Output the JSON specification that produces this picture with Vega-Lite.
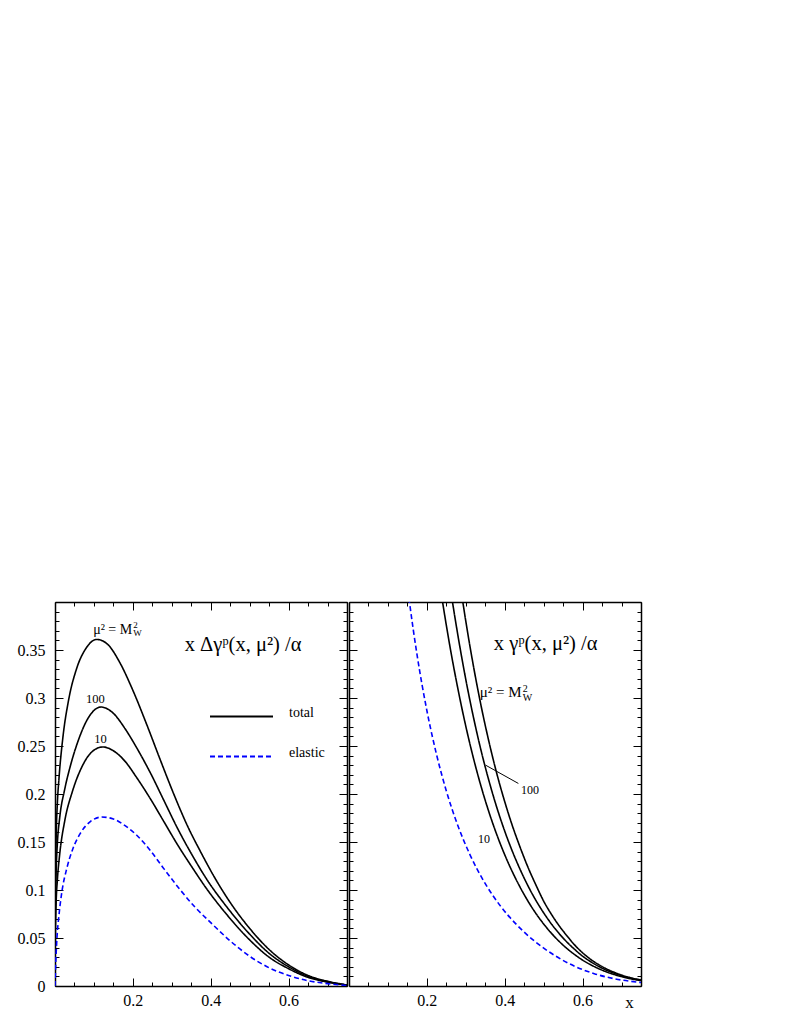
{
  "$schema": "https://vega.github.io/schema/vega-lite/v6.json",
  "padding": {"left": 17, "top": 594, "right": 5, "bottom": 5},
  "config": {
    "view": {"stroke": null},
    "font": "'Liberation Serif', 'Times New Roman', serif",
    "axis": {"domainColor": "black", "domainWidth": 1.5, "tickColor": "black", "tickWidth": 1, "grid": false, "labelFont": "'Liberation Serif', 'Times New Roman', serif", "labelFontSize": 16, "labelColor": "black", "labelOverlap": false, "labelFlush": false, "titleFont": "'Liberation Serif', 'Times New Roman', serif"},
    "legend": {"labelFont": "'Liberation Serif', 'Times New Roman', serif"},
    "text": {"font": "'Liberation Serif', 'Times New Roman', serif", "color": "black"}
  },
  "datasets": {
    "left": [
      {"curve": "MW", "type": "total", "x": 0, "y": 0},
      {"curve": "MW", "type": "total", "x": 0.001, "y": 0.1},
      {"curve": "MW", "type": "total", "x": 0.003, "y": 0.155},
      {"curve": "MW", "type": "total", "x": 0.006, "y": 0.19},
      {"curve": "MW", "type": "total", "x": 0.01, "y": 0.215},
      {"curve": "MW", "type": "total", "x": 0.02, "y": 0.258},
      {"curve": "MW", "type": "total", "x": 0.035, "y": 0.298},
      {"curve": "MW", "type": "total", "x": 0.055, "y": 0.33},
      {"curve": "MW", "type": "total", "x": 0.08, "y": 0.352},
      {"curve": "MW", "type": "total", "x": 0.107, "y": 0.361},
      {"curve": "MW", "type": "total", "x": 0.135, "y": 0.356},
      {"curve": "MW", "type": "total", "x": 0.165, "y": 0.338},
      {"curve": "MW", "type": "total", "x": 0.2, "y": 0.308},
      {"curve": "MW", "type": "total", "x": 0.235, "y": 0.273},
      {"curve": "MW", "type": "total", "x": 0.27, "y": 0.236},
      {"curve": "MW", "type": "total", "x": 0.305, "y": 0.2},
      {"curve": "MW", "type": "total", "x": 0.34, "y": 0.167},
      {"curve": "MW", "type": "total", "x": 0.375, "y": 0.139},
      {"curve": "MW", "type": "total", "x": 0.41, "y": 0.113},
      {"curve": "MW", "type": "total", "x": 0.45, "y": 0.087},
      {"curve": "MW", "type": "total", "x": 0.5, "y": 0.06},
      {"curve": "MW", "type": "total", "x": 0.55, "y": 0.038},
      {"curve": "MW", "type": "total", "x": 0.6, "y": 0.022},
      {"curve": "MW", "type": "total", "x": 0.65, "y": 0.011},
      {"curve": "MW", "type": "total", "x": 0.7, "y": 0.005},
      {"curve": "MW", "type": "total", "x": 0.75, "y": 0.001},
      {"curve": "100", "type": "total", "x": 0, "y": 0},
      {"curve": "100", "type": "total", "x": 0.001, "y": 0.08},
      {"curve": "100", "type": "total", "x": 0.003, "y": 0.12},
      {"curve": "100", "type": "total", "x": 0.006, "y": 0.148},
      {"curve": "100", "type": "total", "x": 0.012, "y": 0.175},
      {"curve": "100", "type": "total", "x": 0.025, "y": 0.205},
      {"curve": "100", "type": "total", "x": 0.04, "y": 0.23},
      {"curve": "100", "type": "total", "x": 0.06, "y": 0.256},
      {"curve": "100", "type": "total", "x": 0.085, "y": 0.279},
      {"curve": "100", "type": "total", "x": 0.118, "y": 0.2906},
      {"curve": "100", "type": "total", "x": 0.15, "y": 0.284},
      {"curve": "100", "type": "total", "x": 0.18, "y": 0.268},
      {"curve": "100", "type": "total", "x": 0.21, "y": 0.248},
      {"curve": "100", "type": "total", "x": 0.245, "y": 0.222},
      {"curve": "100", "type": "total", "x": 0.28, "y": 0.193},
      {"curve": "100", "type": "total", "x": 0.315, "y": 0.164},
      {"curve": "100", "type": "total", "x": 0.35, "y": 0.138},
      {"curve": "100", "type": "total", "x": 0.39, "y": 0.111},
      {"curve": "100", "type": "total", "x": 0.44, "y": 0.083},
      {"curve": "100", "type": "total", "x": 0.5, "y": 0.054},
      {"curve": "100", "type": "total", "x": 0.55, "y": 0.034},
      {"curve": "100", "type": "total", "x": 0.6, "y": 0.02},
      {"curve": "100", "type": "total", "x": 0.65, "y": 0.01},
      {"curve": "100", "type": "total", "x": 0.7, "y": 0.0045},
      {"curve": "100", "type": "total", "x": 0.75, "y": 0.001},
      {"curve": "10", "type": "total", "x": 0, "y": 0},
      {"curve": "10", "type": "total", "x": 0.001, "y": 0.055},
      {"curve": "10", "type": "total", "x": 0.003, "y": 0.088},
      {"curve": "10", "type": "total", "x": 0.006, "y": 0.11},
      {"curve": "10", "type": "total", "x": 0.012, "y": 0.137},
      {"curve": "10", "type": "total", "x": 0.025, "y": 0.172},
      {"curve": "10", "type": "total", "x": 0.045, "y": 0.203},
      {"curve": "10", "type": "total", "x": 0.07, "y": 0.229},
      {"curve": "10", "type": "total", "x": 0.095, "y": 0.244},
      {"curve": "10", "type": "total", "x": 0.123, "y": 0.249},
      {"curve": "10", "type": "total", "x": 0.15, "y": 0.245},
      {"curve": "10", "type": "total", "x": 0.18, "y": 0.234},
      {"curve": "10", "type": "total", "x": 0.21, "y": 0.217},
      {"curve": "10", "type": "total", "x": 0.245, "y": 0.195},
      {"curve": "10", "type": "total", "x": 0.28, "y": 0.171},
      {"curve": "10", "type": "total", "x": 0.315, "y": 0.147},
      {"curve": "10", "type": "total", "x": 0.35, "y": 0.125},
      {"curve": "10", "type": "total", "x": 0.39, "y": 0.101},
      {"curve": "10", "type": "total", "x": 0.44, "y": 0.075},
      {"curve": "10", "type": "total", "x": 0.5, "y": 0.048},
      {"curve": "10", "type": "total", "x": 0.55, "y": 0.03},
      {"curve": "10", "type": "total", "x": 0.6, "y": 0.018},
      {"curve": "10", "type": "total", "x": 0.65, "y": 0.009},
      {"curve": "10", "type": "total", "x": 0.7, "y": 0.004},
      {"curve": "10", "type": "total", "x": 0.75, "y": 0.001},
      {"curve": "el", "type": "elastic", "x": 0, "y": 0},
      {"curve": "el", "type": "elastic", "x": 0.002, "y": 0.025},
      {"curve": "el", "type": "elastic", "x": 0.005, "y": 0.05},
      {"curve": "el", "type": "elastic", "x": 0.01, "y": 0.073},
      {"curve": "el", "type": "elastic", "x": 0.018, "y": 0.099},
      {"curve": "el", "type": "elastic", "x": 0.03, "y": 0.122},
      {"curve": "el", "type": "elastic", "x": 0.045, "y": 0.142},
      {"curve": "el", "type": "elastic", "x": 0.065, "y": 0.159},
      {"curve": "el", "type": "elastic", "x": 0.09, "y": 0.171},
      {"curve": "el", "type": "elastic", "x": 0.12, "y": 0.176},
      {"curve": "el", "type": "elastic", "x": 0.15, "y": 0.174},
      {"curve": "el", "type": "elastic", "x": 0.18, "y": 0.167},
      {"curve": "el", "type": "elastic", "x": 0.21, "y": 0.157},
      {"curve": "el", "type": "elastic", "x": 0.245, "y": 0.141},
      {"curve": "el", "type": "elastic", "x": 0.28, "y": 0.122},
      {"curve": "el", "type": "elastic", "x": 0.32, "y": 0.101},
      {"curve": "el", "type": "elastic", "x": 0.36, "y": 0.082},
      {"curve": "el", "type": "elastic", "x": 0.4, "y": 0.066},
      {"curve": "el", "type": "elastic", "x": 0.45, "y": 0.047},
      {"curve": "el", "type": "elastic", "x": 0.5, "y": 0.031},
      {"curve": "el", "type": "elastic", "x": 0.55, "y": 0.019},
      {"curve": "el", "type": "elastic", "x": 0.6, "y": 0.011},
      {"curve": "el", "type": "elastic", "x": 0.65, "y": 0.0055},
      {"curve": "el", "type": "elastic", "x": 0.7, "y": 0.0025},
      {"curve": "el", "type": "elastic", "x": 0.75, "y": 0.0005}
    ],
    "right": [
      {"curve": "10", "type": "total", "x": 0.2, "y": 0.52},
      {"curve": "10", "type": "total", "x": 0.22, "y": 0.4566},
      {"curve": "10", "type": "total", "x": 0.24, "y": 0.401},
      {"curve": "10", "type": "total", "x": 0.26, "y": 0.352},
      {"curve": "10", "type": "total", "x": 0.28, "y": 0.309},
      {"curve": "10", "type": "total", "x": 0.3, "y": 0.2706},
      {"curve": "10", "type": "total", "x": 0.32, "y": 0.2367},
      {"curve": "10", "type": "total", "x": 0.34, "y": 0.2068},
      {"curve": "10", "type": "total", "x": 0.36, "y": 0.1805},
      {"curve": "10", "type": "total", "x": 0.38, "y": 0.1572},
      {"curve": "10", "type": "total", "x": 0.4, "y": 0.1367},
      {"curve": "10", "type": "total", "x": 0.42, "y": 0.1186},
      {"curve": "10", "type": "total", "x": 0.44, "y": 0.1025},
      {"curve": "10", "type": "total", "x": 0.46, "y": 0.0882},
      {"curve": "10", "type": "total", "x": 0.48, "y": 0.0756},
      {"curve": "10", "type": "total", "x": 0.5, "y": 0.0646},
      {"curve": "10", "type": "total", "x": 0.52, "y": 0.0549},
      {"curve": "10", "type": "total", "x": 0.54, "y": 0.0464},
      {"curve": "10", "type": "total", "x": 0.56, "y": 0.039},
      {"curve": "10", "type": "total", "x": 0.58, "y": 0.0326},
      {"curve": "10", "type": "total", "x": 0.6, "y": 0.027},
      {"curve": "10", "type": "total", "x": 0.62, "y": 0.0223},
      {"curve": "10", "type": "total", "x": 0.64, "y": 0.0183},
      {"curve": "10", "type": "total", "x": 0.66, "y": 0.0149},
      {"curve": "10", "type": "total", "x": 0.68, "y": 0.0121},
      {"curve": "10", "type": "total", "x": 0.7, "y": 0.0098},
      {"curve": "10", "type": "total", "x": 0.72, "y": 0.0078},
      {"curve": "10", "type": "total", "x": 0.75, "y": 0.0056},
      {"curve": "100", "type": "total", "x": 0.2, "y": 0.614},
      {"curve": "100", "type": "total", "x": 0.22, "y": 0.539},
      {"curve": "100", "type": "total", "x": 0.24, "y": 0.473},
      {"curve": "100", "type": "total", "x": 0.26, "y": 0.4154},
      {"curve": "100", "type": "total", "x": 0.28, "y": 0.3646},
      {"curve": "100", "type": "total", "x": 0.3, "y": 0.3193},
      {"curve": "100", "type": "total", "x": 0.32, "y": 0.2793},
      {"curve": "100", "type": "total", "x": 0.34, "y": 0.244},
      {"curve": "100", "type": "total", "x": 0.36, "y": 0.213},
      {"curve": "100", "type": "total", "x": 0.38, "y": 0.1855},
      {"curve": "100", "type": "total", "x": 0.4, "y": 0.1613},
      {"curve": "100", "type": "total", "x": 0.42, "y": 0.1399},
      {"curve": "100", "type": "total", "x": 0.44, "y": 0.121},
      {"curve": "100", "type": "total", "x": 0.46, "y": 0.1041},
      {"curve": "100", "type": "total", "x": 0.48, "y": 0.0892},
      {"curve": "100", "type": "total", "x": 0.5, "y": 0.0762},
      {"curve": "100", "type": "total", "x": 0.52, "y": 0.0646},
      {"curve": "100", "type": "total", "x": 0.54, "y": 0.0545},
      {"curve": "100", "type": "total", "x": 0.56, "y": 0.0457},
      {"curve": "100", "type": "total", "x": 0.58, "y": 0.038},
      {"curve": "100", "type": "total", "x": 0.6, "y": 0.0311},
      {"curve": "100", "type": "total", "x": 0.62, "y": 0.0255},
      {"curve": "100", "type": "total", "x": 0.64, "y": 0.0207},
      {"curve": "100", "type": "total", "x": 0.66, "y": 0.0167},
      {"curve": "100", "type": "total", "x": 0.68, "y": 0.0135},
      {"curve": "100", "type": "total", "x": 0.7, "y": 0.0107},
      {"curve": "100", "type": "total", "x": 0.72, "y": 0.0085},
      {"curve": "100", "type": "total", "x": 0.75, "y": 0.006},
      {"curve": "MW", "type": "total", "x": 0.2, "y": 0.73},
      {"curve": "MW", "type": "total", "x": 0.22, "y": 0.641},
      {"curve": "MW", "type": "total", "x": 0.24, "y": 0.563},
      {"curve": "MW", "type": "total", "x": 0.26, "y": 0.494},
      {"curve": "MW", "type": "total", "x": 0.28, "y": 0.434},
      {"curve": "MW", "type": "total", "x": 0.3, "y": 0.38},
      {"curve": "MW", "type": "total", "x": 0.32, "y": 0.3324},
      {"curve": "MW", "type": "total", "x": 0.34, "y": 0.2904},
      {"curve": "MW", "type": "total", "x": 0.36, "y": 0.2535},
      {"curve": "MW", "type": "total", "x": 0.38, "y": 0.2207},
      {"curve": "MW", "type": "total", "x": 0.4, "y": 0.192},
      {"curve": "MW", "type": "total", "x": 0.42, "y": 0.1665},
      {"curve": "MW", "type": "total", "x": 0.44, "y": 0.144},
      {"curve": "MW", "type": "total", "x": 0.46, "y": 0.1234},
      {"curve": "MW", "type": "total", "x": 0.48, "y": 0.1053},
      {"curve": "MW", "type": "total", "x": 0.5, "y": 0.0884},
      {"curve": "MW", "type": "total", "x": 0.52, "y": 0.0746},
      {"curve": "MW", "type": "total", "x": 0.54, "y": 0.0626},
      {"curve": "MW", "type": "total", "x": 0.56, "y": 0.0522},
      {"curve": "MW", "type": "total", "x": 0.58, "y": 0.0426},
      {"curve": "MW", "type": "total", "x": 0.6, "y": 0.0346},
      {"curve": "MW", "type": "total", "x": 0.62, "y": 0.028},
      {"curve": "MW", "type": "total", "x": 0.64, "y": 0.0226},
      {"curve": "MW", "type": "total", "x": 0.66, "y": 0.0181},
      {"curve": "MW", "type": "total", "x": 0.68, "y": 0.0145},
      {"curve": "MW", "type": "total", "x": 0.7, "y": 0.0114},
      {"curve": "MW", "type": "total", "x": 0.72, "y": 0.009},
      {"curve": "MW", "type": "total", "x": 0.75, "y": 0.0063},
      {"curve": "el", "type": "elastic", "x": 0.13, "y": 0.487},
      {"curve": "el", "type": "elastic", "x": 0.155, "y": 0.401},
      {"curve": "el", "type": "elastic", "x": 0.175, "y": 0.3444},
      {"curve": "el", "type": "elastic", "x": 0.2, "y": 0.287},
      {"curve": "el", "type": "elastic", "x": 0.225, "y": 0.2409},
      {"curve": "el", "type": "elastic", "x": 0.25, "y": 0.2032},
      {"curve": "el", "type": "elastic", "x": 0.28, "y": 0.1667},
      {"curve": "el", "type": "elastic", "x": 0.31, "y": 0.1374},
      {"curve": "el", "type": "elastic", "x": 0.35, "y": 0.1066},
      {"curve": "el", "type": "elastic", "x": 0.39, "y": 0.0828},
      {"curve": "el", "type": "elastic", "x": 0.43, "y": 0.0641},
      {"curve": "el", "type": "elastic", "x": 0.48, "y": 0.0456},
      {"curve": "el", "type": "elastic", "x": 0.53, "y": 0.0314},
      {"curve": "el", "type": "elastic", "x": 0.58, "y": 0.0205},
      {"curve": "el", "type": "elastic", "x": 0.63, "y": 0.0128},
      {"curve": "el", "type": "elastic", "x": 0.68, "y": 0.0077},
      {"curve": "el", "type": "elastic", "x": 0.75, "y": 0.0036}
    ]
  },
  "spacing": 0,
  "resolve": {"scale": {"color": "independent", "strokeDash": "independent"}, "legend": {"color": "independent", "strokeDash": "independent"}},
  "hconcat": [
    {
      "width": 292,
      "height": 384,
      "resolve": {"axis": {"x": "independent", "y": "independent"}},
      "layer": [
        {
          "data": {"name": "left"},
          "mark": {"type": "line", "strokeWidth": 1.6, "interpolate": "monotone", "clip": true},
          "encoding": {
            "x": {"field": "x", "type": "quantitative", "scale": {"domain": [0, 0.75], "nice": false, "zero": false},
              "axis": {"orient": "bottom", "title": null, "values": [0,0.05,0.1,0.15,0.2,0.25,0.3,0.35,0.4,0.45,0.5,0.55,0.6,0.65,0.7,0.75],
                "labelExpr": "abs(datum.value/0.2-round(datum.value/0.2))<1e-6 && datum.value>0.01 ? format(datum.value,'.1f') : ''",
                "tickSize": {"condition": {"test": "abs(datum.value/0.2-round(datum.value/0.2))<1e-6", "value": -8}, "value": -4},
                "labelPadding": 14}},
            "y": {"field": "y", "type": "quantitative", "scale": {"domain": [0, 0.4], "nice": false},
              "axis": {"orient": "left", "title": null, "values": [0,0.01,0.02,0.03,0.04,0.05,0.06,0.07,0.08,0.09,0.1,0.11,0.12,0.13,0.14,0.15,0.16,0.17,0.18,0.19,0.2,0.21,0.22,0.23,0.24,0.25,0.26,0.27,0.28,0.29,0.3,0.31,0.32,0.33,0.34,0.35,0.36,0.37,0.38,0.39,0.4],
                "labelExpr": "abs(datum.value/0.05-round(datum.value/0.05))<1e-6 && datum.value<0.39 ? format(datum.value,'~g') : ''",
                "tickSize": {"condition": {"test": "abs(datum.value/0.05-round(datum.value/0.05))<1e-6", "value": -8}, "value": -4},
                "labelPadding": 18}},
            "detail": {"field": "curve", "type": "nominal"},
            "color": {"field": "type", "type": "nominal", "scale": {"domain": ["total", "elastic"], "range": ["#000000", "#0000ff"]},
              "legend": {"orient": "none", "legendX": 154, "legendY": 82, "title": null, "symbolType": "stroke", "symbolSize": 3969, "symbolStrokeWidth": 2, "labelFontSize": 14, "labelColor": "black", "labelOffset": 15, "labelBaseline": "alphabetic", "rowPadding": 3, "padding": 0}},
            "strokeDash": {"field": "type", "type": "nominal", "scale": {"domain": ["total", "elastic"], "range": [[1, 0], [5, 3]]},
              "legend": {"orient": "none", "legendX": 154, "legendY": 82, "title": null, "symbolType": "stroke", "symbolSize": 3969, "symbolStrokeWidth": 2, "labelFontSize": 14, "labelColor": "black", "labelOffset": 15, "labelBaseline": "alphabetic", "rowPadding": 3, "padding": 0}}
          }
        },
        {
          "data": {"values": [{}]},
          "mark": {"type": "text", "text": "x Δγᵖ(x, μ²) /α", "fontSize": 20.5, "align": "center", "baseline": "alphabetic"},
          "encoding": {
            "x": {"datum": 0.483, "type": "quantitative", "scale": {"domain": [0, 0.75], "nice": false, "zero": false},
              "axis": {"orient": "top", "title": null, "labels": false, "values": [0,0.05,0.1,0.15,0.2,0.25,0.3,0.35,0.4,0.45,0.5,0.55,0.6,0.65,0.7,0.75],
                "tickSize": {"condition": {"test": "abs(datum.value/0.2-round(datum.value/0.2))<1e-6", "value": -8}, "value": -4}}},
            "y": {"datum": 0.349, "type": "quantitative", "scale": {"domain": [0, 0.4], "nice": false},
              "axis": {"orient": "right", "title": null, "labels": false, "values": [0,0.01,0.02,0.03,0.04,0.05,0.06,0.07,0.08,0.09,0.1,0.11,0.12,0.13,0.14,0.15,0.16,0.17,0.18,0.19,0.2,0.21,0.22,0.23,0.24,0.25,0.26,0.27,0.28,0.29,0.3,0.31,0.32,0.33,0.34,0.35,0.36,0.37,0.38,0.39,0.4],
                "tickSize": {"condition": {"test": "abs(datum.value/0.05-round(datum.value/0.05))<1e-6", "value": -8}, "value": -4}}}
          }
        },
        {
          "data": {"values": [{}]},
          "mark": {"type": "text", "text": "μ² = M", "fontSize": 14, "align": "left", "baseline": "alphabetic"},
          "encoding": {
            "x": {"datum": 0.098, "type": "quantitative", "axis": null},
            "y": {"datum": 0.367, "type": "quantitative", "axis": null}
          }
        },
        {
          "data": {"values": [{}]},
          "mark": {"type": "text", "text": ["2", "W"], "fontSize": 9, "lineHeight": 8.5, "align": "left", "baseline": "middle", "dx": 40, "dy": -9},
          "encoding": {
            "x": {"datum": 0.098, "type": "quantitative", "axis": null},
            "y": {"datum": 0.367, "type": "quantitative", "axis": null}
          }
        },
        {
          "data": {"values": [{}]},
          "mark": {"type": "text", "text": "100", "fontSize": 12.5, "align": "center", "baseline": "alphabetic"},
          "encoding": {
            "x": {"datum": 0.104, "type": "quantitative", "axis": null},
            "y": {"datum": 0.295, "type": "quantitative", "axis": null}
          }
        },
        {
          "data": {"values": [{}]},
          "mark": {"type": "text", "text": "10", "fontSize": 12.5, "align": "center", "baseline": "alphabetic"},
          "encoding": {
            "x": {"datum": 0.117, "type": "quantitative", "axis": null},
            "y": {"datum": 0.2535, "type": "quantitative", "axis": null}
          }
        }
      ]
    },
    {
      "width": 292,
      "height": 384,
      "resolve": {"axis": {"x": "independent", "y": "independent"}},
      "layer": [
        {
          "data": {"name": "right"},
          "mark": {"type": "line", "strokeWidth": 1.6, "interpolate": "monotone", "clip": true},
          "encoding": {
            "x": {"field": "x", "type": "quantitative", "scale": {"domain": [0, 0.75], "nice": false, "zero": false},
              "axis": {"orient": "bottom", "title": "x", "titleFontSize": 17, "titleFontWeight": "normal", "titleColor": "black", "titleX": 280, "titleY": 21, "titleAlign": "center", "titleBaseline": "alphabetic", "titleAnchor": null,
                "values": [0,0.05,0.1,0.15,0.2,0.25,0.3,0.35,0.4,0.45,0.5,0.55,0.6,0.65,0.7,0.75],
                "labelExpr": "abs(datum.value/0.2-round(datum.value/0.2))<1e-6 && datum.value>0.01 ? format(datum.value,'.1f') : ''",
                "tickSize": {"condition": {"test": "abs(datum.value/0.2-round(datum.value/0.2))<1e-6", "value": -8}, "value": -4},
                "labelPadding": 14}},
            "y": {"field": "y", "type": "quantitative", "scale": {"domain": [0, 0.4], "nice": false},
              "axis": {"orient": "left", "title": null, "labels": false, "values": [0,0.01,0.02,0.03,0.04,0.05,0.06,0.07,0.08,0.09,0.1,0.11,0.12,0.13,0.14,0.15,0.16,0.17,0.18,0.19,0.2,0.21,0.22,0.23,0.24,0.25,0.26,0.27,0.28,0.29,0.3,0.31,0.32,0.33,0.34,0.35,0.36,0.37,0.38,0.39,0.4],
                "tickSize": {"condition": {"test": "abs(datum.value/0.05-round(datum.value/0.05))<1e-6", "value": -8}, "value": -4}}},
            "detail": {"field": "curve", "type": "nominal"},
            "color": {"field": "type", "type": "nominal", "scale": {"domain": ["total", "elastic"], "range": ["#000000", "#0000ff"]}, "legend": null},
            "strokeDash": {"field": "type", "type": "nominal", "scale": {"domain": ["total", "elastic"], "range": [[1, 0], [5, 3]]}, "legend": null}
          }
        },
        {
          "data": {"values": [{}]},
          "mark": {"type": "text", "text": "x γᵖ(x, μ²) /α", "fontSize": 20.5, "align": "center", "baseline": "alphabetic"},
          "encoding": {
            "x": {"datum": 0.505, "type": "quantitative", "scale": {"domain": [0, 0.75], "nice": false, "zero": false},
              "axis": {"orient": "top", "title": null, "labels": false, "values": [0,0.05,0.1,0.15,0.2,0.25,0.3,0.35,0.4,0.45,0.5,0.55,0.6,0.65,0.7,0.75],
                "tickSize": {"condition": {"test": "abs(datum.value/0.2-round(datum.value/0.2))<1e-6", "value": -8}, "value": -4}}},
            "y": {"datum": 0.35, "type": "quantitative", "scale": {"domain": [0, 0.4], "nice": false},
              "axis": {"orient": "right", "title": null, "labels": false, "values": [0,0.01,0.02,0.03,0.04,0.05,0.06,0.07,0.08,0.09,0.1,0.11,0.12,0.13,0.14,0.15,0.16,0.17,0.18,0.19,0.2,0.21,0.22,0.23,0.24,0.25,0.26,0.27,0.28,0.29,0.3,0.31,0.32,0.33,0.34,0.35,0.36,0.37,0.38,0.39,0.4],
                "tickSize": {"condition": {"test": "abs(datum.value/0.05-round(datum.value/0.05))<1e-6", "value": -8}, "value": -4}}}
          }
        },
        {
          "data": {"values": [{}]},
          "mark": {"type": "text", "text": "μ² = M", "fontSize": 15, "align": "left", "baseline": "alphabetic"},
          "encoding": {
            "x": {"datum": 0.336, "type": "quantitative", "axis": null},
            "y": {"datum": 0.301, "type": "quantitative", "axis": null}
          }
        },
        {
          "data": {"values": [{}]},
          "mark": {"type": "text", "text": ["2", "W"], "fontSize": 10, "lineHeight": 9, "align": "left", "baseline": "middle", "dx": 43, "dy": -8},
          "encoding": {
            "x": {"datum": 0.336, "type": "quantitative", "axis": null},
            "y": {"datum": 0.301, "type": "quantitative", "axis": null}
          }
        },
        {
          "data": {"values": [{}]},
          "mark": {"type": "rule", "strokeWidth": 1, "color": "black"},
          "encoding": {
            "x": {"datum": 0.351, "type": "quantitative", "axis": null},
            "y": {"datum": 0.23, "type": "quantitative", "axis": null},
            "x2": {"datum": 0.435},
            "y2": {"datum": 0.211}
          }
        },
        {
          "data": {"values": [{}]},
          "mark": {"type": "text", "text": "100", "fontSize": 12, "align": "center", "baseline": "alphabetic"},
          "encoding": {
            "x": {"datum": 0.465, "type": "quantitative", "axis": null},
            "y": {"datum": 0.2, "type": "quantitative", "axis": null}
          }
        },
        {
          "data": {"values": [{}]},
          "mark": {"type": "text", "text": "10", "fontSize": 12, "align": "center", "baseline": "alphabetic"},
          "encoding": {
            "x": {"datum": 0.347, "type": "quantitative", "axis": null},
            "y": {"datum": 0.149, "type": "quantitative", "axis": null}
          }
        }
      ]
    }
  ]
}
